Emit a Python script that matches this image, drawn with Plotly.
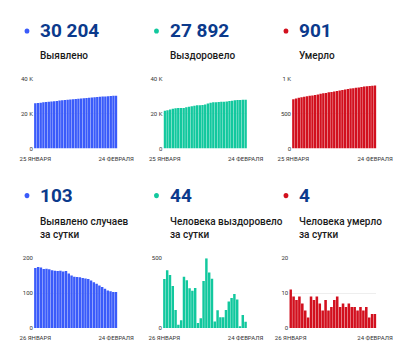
import plotly.graph_objects as go
import pandas as pd

W, H = 418, 353

# ---------------- data ----------------
dates_total = [d.strftime("%Y-%m-%d") for d in pd.date_range("2021-01-25", "2021-02-24")]
dates_daily = dates_total[1:]

cases_total = [25864, 26036, 26211, 26384, 26553, 26723, 26891, 27056, 27220, 27383, 27547,
               27709, 27872, 28028, 28178, 28325, 28471, 28616, 28759, 28901, 29041,
               29177, 29308, 29435, 29557, 29674, 29786, 29893, 29998, 30101, 30204]
recovered_total = [21553, 21903, 22317, 22696, 22997, 23125, 23148, 23204, 23571, 23912, 24197,
                   24463, 24750, 24785, 24855, 25191, 25691, 26088, 26441, 26488, 26614,
                   26691, 26768, 26896, 27085, 27300, 27543, 27746, 27755, 27848, 27892]
deaths_total = [704, 715, 724, 732, 741, 748, 753, 756, 765, 773, 782,
                789, 794, 802, 807, 813, 821, 830, 836, 843, 849,
                856, 862, 868, 873, 879, 884, 890, 893, 897, 901]

cases_daily = [172, 175, 173, 169, 170, 168, 165, 164, 163, 164, 162, 163, 156, 150, 147,
               146, 145, 143, 142, 140, 136, 131, 127, 122, 117, 112, 107, 105, 103, 103]
recovered_daily = [350, 414, 379, 301, 128, 23, 56, 367, 341, 285, 266, 287, 35, 70, 336,
                   500, 397, 353, 47, 126, 77, 77, 128, 189, 215, 243, 203, 9, 93, 44]
deaths_daily = [11, 9, 8, 9, 7, 5, 3, 9, 8, 9, 7, 5, 8, 5, 6,
                8, 9, 6, 7, 6, 7, 6, 6, 5, 6, 5, 6, 3, 4, 4]

headline_values = ["30 204", "27 892", "901", "103", "44", "4"]
headline_labels = ["Выявлено", "Выздоровело", "Умерло",
                   "Выявлено случаев<br>за сутки", "Человека выздоровело<br>за сутки",
                   "Человека умерло<br>за сутки"]
x_ticks_total = ["25 ЯНВАРЯ", "24 ФЕВРАЛЯ"]
x_ticks_daily = ["26 ЯНВАРЯ", "24 ФЕВРАЛЯ"]

y_ticks = [
    ([0, 20000, 40000], ["0", "20 K", "40 K"], [0, 40000]),
    ([0, 20000, 40000], ["0", "20 K", "40 K"], [0, 40000]),
    ([0, 500, 1000], ["0", "500", "1 K"], [0, 1000]),
    ([0, 100, 200], ["0", "100", "200"], [0, 200]),
    ([0, 500], ["0", "500"], [0, 500]),
    ([0, 10, 20], ["0", "10", "20"], [0, 20]),
]

BLUE, GREEN, RED = "#3a5bfa", "#12c89e", "#d2101e"
NAVY = "#0b3a8c"
FONT = "Roboto"

panels = [
    (dates_total, cases_total, BLUE, x_ticks_total),
    (dates_total, recovered_total, GREEN, x_ticks_total),
    (dates_total, deaths_total, RED, x_ticks_total),
    (dates_daily, cases_daily, BLUE, x_ticks_daily),
    (dates_daily, recovered_daily, GREEN, x_ticks_daily),
    (dates_daily, deaths_daily, RED, x_ticks_daily),
]

# pixel layout of each panel
x_dom_px = [(21.5, 111.5), (161.0, 251.0), (299.5, 390.5),
            (21.5, 111.5), (160.5, 251.0), (296.5, 390.5)]
y_dom_px = [(76.0, 147.5)] * 3 + [(259.3, 330.5)] * 3
text_x_px = [26, 166, 305, 26, 166, 305]
dot_x_px = [14, 153.5, 293, 14, 153.5, 293]
num_y_px = [27.5, 27.5, 27.5, 195.5, 195.5, 195.5]
lab_y_px = [52.5, 52.5, 52.5, 228.3, 228.3, 228.3]

fig = go.Figure()
layout = dict(
    width=W, height=H, margin=dict(l=0, r=0, t=0, b=0),
    paper_bgcolor="white", plot_bgcolor="white",
    showlegend=False, bargap=0.12,
    font=dict(family=FONT, color="#333"),
)
annotations = []
shapes = []

for i, (xs, ys, col, xt) in enumerate(panels):
    k = "" if i == 0 else str(i + 1)
    fig.add_trace(go.Bar(x=xs, y=ys, marker=dict(color=col, line=dict(width=0)),
                         xaxis="x" + k, yaxis="y" + k, hoverinfo="x+y"))
    x0, x1 = x_dom_px[i]
    y0, y1 = y_dom_px[i]
    tv, tt, rng = y_ticks[i]
    layout["xaxis" + k] = dict(
        domain=[x0 / W, x1 / W], anchor="y" + k, type="category",
        tickvals=[xs[0], xs[-1]], ticktext=xt, tickangle=0,
        tickfont=dict(size=6, color="#333", family=FONT),
        showgrid=False, zeroline=False, showline=False, ticks="",
        ticklabelstandoff=5, fixedrange=True,
    )
    layout["yaxis" + k] = dict(
        domain=[1 - y1 / H, 1 - y0 / H], anchor="x" + k, range=rng,
        tickvals=tv, ticktext=tt, tickfont=dict(size=6, color="#333", family=FONT),
        showgrid=True, gridcolor="#eeeeee", gridwidth=1, zeroline=False,
        showline=False, ticks="", fixedrange=True,
    )
    # headline number
    annotations.append(dict(
        x=text_x_px[i] / W, y=1 - num_y_px[i] / H, xref="paper", yref="paper",
        xanchor="left", yanchor="middle", showarrow=False,
        text="<b>" + headline_values[i] + "</b>",
        font=dict(size=19, color=NAVY, family=FONT),
    ))
    annotations.append(dict(
        x=text_x_px[i] / W, y=1 - lab_y_px[i] / H, xref="paper", yref="paper",
        xanchor="left", yanchor="middle", showarrow=False, align="left",
        text=headline_labels[i],
        font=dict(size=10, color="#1a1a1a", family=FONT, weight=500),
    ))
    cx, cy, r = dot_x_px[i], num_y_px[i], 2.6
    shapes.append(dict(type="circle", xref="paper", yref="paper",
                       x0=(cx - r) / W, x1=(cx + r) / W,
                       y0=1 - (cy + r) / H, y1=1 - (cy - r) / H,
                       fillcolor=col, line=dict(width=0)))

layout["annotations"] = annotations
layout["shapes"] = shapes
fig.update_layout(**layout)
fig.write_html("out.html")
